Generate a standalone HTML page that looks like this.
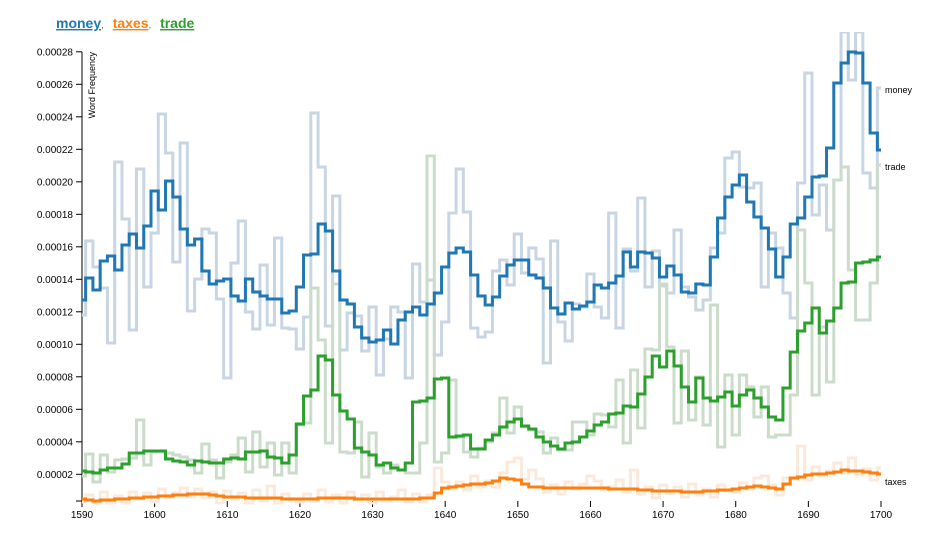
<!DOCTYPE html>
<html><head><meta charset="utf-8">
<style>
html,body{margin:0;padding:0;background:#fff;}
svg{display:block;font-family:"Liberation Sans",Arial,sans-serif;}
.t{font-size:10px;fill:#000;}
</style></head><body>
<svg id="s" width="925" height="535" viewBox="0 0 925 535" xmlns="http://www.w3.org/2000/svg">
<defs><clipPath id="c"><rect x="82" y="32" width="810" height="480"/></clipPath></defs>
<text x="56" y="28" font-size="14" font-weight="bold"><tspan fill="#1f77b4" text-decoration="underline">money</tspan><tspan fill="#666" font-weight="normal" font-size="10">, </tspan><tspan fill="#ff7f0e" text-decoration="underline" dx="6">taxes</tspan><tspan fill="#666" font-weight="normal" font-size="10">, </tspan><tspan fill="#2ca02c" text-decoration="underline" dx="6">trade</tspan></text>
<g id="axes" stroke="#000" stroke-width="1"></g>
<g id="lbl"></g>
<text transform="translate(95,52) rotate(-90)" text-anchor="end" font-size="9">Word Frequency</text>
<g id="lines" clip-path="url(#c)" fill="none" stroke-width="3"></g>
<text x="885" y="93" font-size="9">money</text>
<text x="885" y="170" font-size="9">trade</text>
<text x="885" y="485" font-size="9">taxes</text>
</svg>
<script>
var NS="http://www.w3.org/2000/svg";
function el(p,n,a,txt){var e=document.createElementNS(NS,n);for(var k in a)e.setAttribute(k,a[k]);if(txt!=null)e.textContent=txt;p.appendChild(e);return e;}
var ax=document.getElementById('axes'),lb=document.getElementById('lbl'),ln=document.getElementById('lines');
el(ax,'line',{x1:82,y1:52,x2:82,y2:501});
el(ax,'line',{x1:76,y1:501,x2:82,y2:501});
for(var i=1;i<=14;i++){var y=474.3-(i-1)*32.5;el(ax,'line',{x1:76,y1:y,x2:82,y2:y});
 var v=(i*0.00002).toFixed(5);el(lb,'text',{x:73,y:y+3.5,'text-anchor':'end','class':'t'},v);}
function X(yr){return 82+(yr-1590)*799/110;}
for(var yr=1590;yr<=1700;yr+=10){var x=X(yr);el(ax,'line',{x1:x,y1:501,x2:x,y2:507});el(lb,'text',{x:x,y:518,'text-anchor':'middle','class':'t'},yr);}
function path(a){var d='M'+X(1590)+','+a[0];for(var i=1;i<a.length;i++){var m=(X(1590+i-1)+X(1590+i))/2;d+='H'+m.toFixed(2)+'V'+a[i];}d+='H'+X(1590+a.length-1);return d;}
var blue=[300,278,290,261,256,270,245,234,248,226,191,210,181,197,229,245,239,271,284,281,279,296,301,279,292,296,299,299,313,311,287,255,254,224,231,271,300,304,327,
338,342,340,330,344,320,312,307,315,304,293,267,253,248,252,275,296,305,297,276,265,260,260,275,278,288,308,314,303,309,306,302,285,288,283,276,252,
267,252,253,258,277,266,275,292,293,284,285,257,218,197,185,175,202,217,228,249,277,257,224,218,197,177,176,148,83,63,52,53,83,133,150];
var lblue=[315,241,267,288,343,162,219,330,169,287,233,114,153,262,143,311,279,229,233,299,378,263,221,312,329,265,325,238,328,329,349,317,113,167,326,196,350,313,
316,351,307,375,339,307,312,378,264,302,280,355,322,213,169,212,328,337,332,271,260,285,234,273,248,259,363,241,322,341,304,307,274,307,318,213,328,249,
271,198,287,251,286,293,230,287,297,310,300,248,233,158,152,187,188,183,287,233,248,293,318,183,73,215,185,230,180,32,80,32,173,188,88];
var green=[471,472,473,470,468,468,464,453,453,451,451,451,459,461,462,465,461,462,463,463,459,458,459,452,452,451,457,458,
463,455,424,396,390,356,360,395,411,419,448,452,455,465,463,468,470,463,402,401,398,379,378,437,436,435,449,449,440,435,427,422,419,426,429,437,442,446,449,443,442,
437,431,425,422,414,413,406,407,394,377,356,367,351,366,387,402,378,398,401,397,392,406,395,390,398,407,417,420,388,352,331,323,308,333,321,308,283,282,263,262,260,257];
var lgreen=[476,454,482,455,472,460,459,458,420,465,452,452,453,455,457,460,473,444,460,478,462,455,438,472,432,467,443,475,
443,473,425,423,288,340,443,284,452,453,422,477,433,467,473,465,470,473,473,443,156,462,453,380,437,452,457,448,442,433,398,433,407,427,430,432,453,438,450,450,422,
422,435,414,415,427,380,443,370,428,349,350,284,347,423,351,420,377,425,305,447,375,435,375,387,417,387,437,435,435,395,230,283,395,327,382,180,167,270,320,320,283,165];
var anch=[[1590,499],[1592,501],[1595,499],[1600,497],[1603,495],[1605,494],[1607,494],[1610,497],[1615,498],[1620,499],[1625,498],[1630,499],[1635,499],[1638,498],[1640,488],[1643,485],[1646,483],[1648,478],[1650,480],[1652,487],[1656,488],[1660,488],[1665,489],[1670,491],[1675,492],[1680,489],[1683,486],[1686,489],[1688,478],[1690,475],[1693,473],[1695,470],[1697,471],[1700,474]];
var tax=[];for(var y=1590;y<=1700;y++){for(var j=0;j<anch.length-1;j++){if(y>=anch[j][0]&&y<=anch[j+1][0]){var t=(y-anch[j][0])/(anch[j+1][0]-anch[j][0]);tax.push(Math.round(anch[j][1]+t*(anch[j+1][1]-anch[j][1])));break;}}}
var noise=[3,-5,2,-8,4,-3,6,-6,1,-4,5,-7,2,-2,-9,3,-5,4,-3,7,-6,2,-4,5,-8,3,-2,6,-5,1];
var ltax=tax.map(function(v,i){return Math.min(503,v+noise[i%noise.length]);});
var sp={1604:488,1616:486,1639:468,1649:462,1650:458,1652:470,1660:476,1666:470,1684:476,1689:446,1696:458};
for(var k in sp)ltax[k-1590]=sp[k];
el(ln,'path',{d:path(lblue),stroke:'#c8d6e3'});
el(ln,'path',{d:path(lgreen),stroke:'#cbdccb'});
el(ln,'path',{d:path(ltax),stroke:'#fbe9db'});
el(ln,'path',{d:path(blue),stroke:'#1f77b4'});
el(ln,'path',{d:path(green),stroke:'#2ca02c'});
el(ln,'path',{d:path(tax),stroke:'#ff7f0e'});
</script>
</body></html>
